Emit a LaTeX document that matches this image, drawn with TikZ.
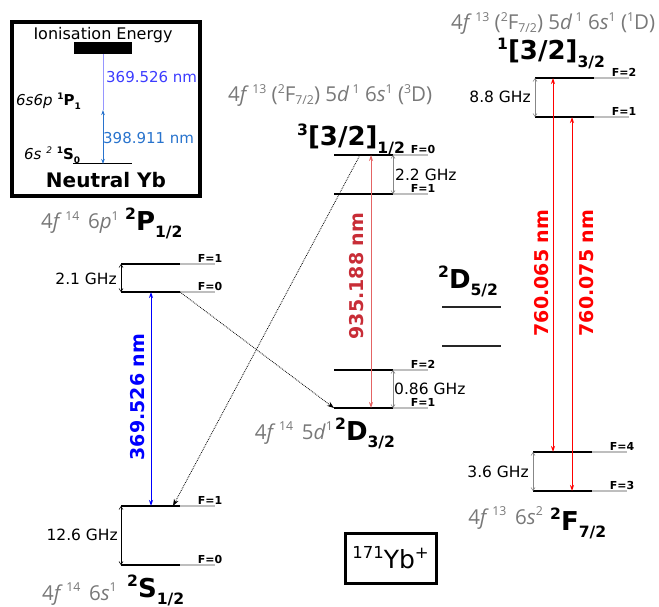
\documentclass[tikz,border=0pt]{standalone}
\usepackage{fontspec}
\usepackage{graphicx}
\setmainfont{DejaVu Sans}
\newfontfamily\cfgfont{Open Sans}
\usetikzlibrary{arrows.meta}

\definecolor{lvlgray}{RGB}{190,190,190}
\definecolor{brkgray}{RGB}{135,135,135}
\definecolor{cfggray}{RGB}{120,120,120}
\definecolor{uvblue}{RGB}{0,0,255}
\definecolor{ionblue}{RGB}{60,60,255}
\definecolor{ionline}{RGB}{150,150,255}
\definecolor{violetblue}{RGB}{40,115,205}
\definecolor{irline}{RGB}{228,100,100}
\definecolor{irtext}{RGB}{200,45,55}
\definecolor{clockred}{RGB}{255,0,0}

% raised / lowered small text for term symbols
\newcommand{\tsup}[1]{\raisebox{0.42em}{\scalebox{0.6}{#1}}}
\newcommand{\tsub}[1]{\raisebox{-0.28em}{\scalebox{0.6}{#1}}}
\newcommand{\tsubc}[1]{\raisebox{-0.12em}{\scalebox{0.6}{#1}}}

\tikzset{
  lvl/.style={line width=1.6pt, black},
  lvlext/.style={line width=1.2pt, lvlgray},
  flab/.style={font=\fontsize{11}{12}\selectfont\bfseries, inner sep=0pt, anchor=south},
  ghz/.style={font=\fontsize{15.5}{17}\selectfont, inner sep=0pt},
  brk/.style={line width=0.6pt, {Straight Barb[length=3pt,width=4pt]}-{Straight Barb[length=3pt,width=4pt]}},
  trm/.style={font=\fontsize{26}{28}\selectfont\bfseries, inner sep=0pt, anchor=base west},
  cfg/.style={font=\fontsize{20.5}{22}\selectfont\cfgfont, text=cfggray, inner sep=0pt, anchor=base west},
  nmlab/.style={font=\fontsize{19}{21}\selectfont\bfseries, rotate=90, inner sep=0pt},
  trans/.style={line width=1pt, {Stealth[length=6pt,width=4pt]}-{Stealth[length=6pt,width=4pt]}},
  decay/.style={densely dotted, line width=0.8pt, -{Stealth[length=7pt,width=5pt]}},
}

% hyperfine level: name, left x, y, F label
\newcommand{\hfslvl}[4]{%
  \coordinate (#1-l) at (#2,#3);
  \coordinate (#1-r) at ([xshift=59pt]#1-l);
  \coordinate (#1-e) at ([xshift=94pt]#1-l);
  \draw[lvlext] (#1-r) -- (#1-e);
  \draw[lvl] (#1-l) -- (#1-r);
  \node[flab] (#1-f) at ([xshift=-5pt,yshift=1.5pt]#1-e) {#4};
}

\begin{document}
\begin{tikzpicture}[x=1pt,y=-1pt]
\useasboundingbox (0,0) rectangle (659,607);

% ---------- neutral Yb inset ----------
\draw[line width=3.5pt] (12,22) rectangle (200,196);
\node[font=\fontsize{16}{18}\selectfont, inner sep=0pt] (ion) at (103,35) {Ionisation Energy};
\fill (74,42) rectangle (132,54);
\coordinate (ionbar) at (103,54);
\coordinate (p1) at (103,110);
\coordinate (s0) at (103,164);
\draw[line width=1pt] (73,164) -- (132,164);
\draw[ionline, line width=0.6pt] (ionbar) -- (p1);
\draw[violetblue, line width=0.8pt, {Stealth[length=5pt,width=3.5pt]}-{Stealth[length=5pt,width=3.5pt]}] (p1) -- (s0);
\node[font=\fontsize{15}{17}\selectfont, text=ionblue, anchor=west, inner sep=0pt] (l369n) at (106,77) {369.526 nm};
\node[font=\fontsize{15}{17}\selectfont, text=violetblue, anchor=west, inner sep=0pt] (l398n) at (103,138) {398.911 nm};
\node[font=\fontsize{15}{17}\selectfont, anchor=west, inner sep=0pt] (p1lab) at (16,101) {\textit{6s6p} \textbf{\tsup{1}P\tsub{1}}};
\node[font=\fontsize{15}{17}\selectfont, anchor=west, inner sep=0pt] (s0lab) at (24,155) {\textit{6s} \tsup{\textit{2}} \textbf{\tsup{1}S\tsub{0}}};
\node[font=\fontsize{20}{22}\selectfont\bfseries, inner sep=0pt] (neutral) at (106,180) {Neutral Yb};

% ---------- hyperfine levels ----------
\hfslvl{P1}{121}{264}{F=1}
\hfslvl{P0}{121}{292}{F=0}
\hfslvl{S1}{121}{506}{F=1}
\hfslvl{S0}{121}{565}{F=0}
\hfslvl{T0}{334}{155}{F=0}
\hfslvl{T1}{334}{194}{F=1}
\hfslvl{D2}{334}{370}{F=2}
\hfslvl{D1}{334}{408}{F=1}
\hfslvl{U2}{535}{78}{F=2}
\hfslvl{U1}{535}{117}{F=1}
\hfslvl{G4}{533}{452}{F=4}
\hfslvl{G3}{533}{491}{F=3}

% 2D5/2 sublevels
\draw[line width=1.3pt, black!85] (442,307) -- (501,307);
\draw[line width=1.3pt, black!85] (442,346) -- (501,346);

% ---------- hyperfine splittings ----------
\draw[brk] (P1-l) -- (P0-l);
\draw[brk] (S1-l) -- (S0-l);
\draw[brk, brkgray] (T0-r) -- (T1-r);
\draw[brk, brkgray] (D2-r) -- (D1-r);
\draw[brk, brkgray] (U2-l) -- (U1-l);
\draw[brk, brkgray] (G4-l) -- (G3-l);
\node[ghz, anchor=east] (g21) at (117,279) {2.1 GHz};
\node[ghz, anchor=east] (g126) at (118,535) {12.6 GHz};
\node[ghz, anchor=west] (g22) at (395,175) {2.2 GHz};
\node[ghz, anchor=west] (g086) at (394,389) {0.86 GHz};
\node[ghz, anchor=east] (g88) at (531,97) {8.8 GHz};
\node[ghz, anchor=east] (g36) at (529,472) {3.6 GHz};

% ---------- term symbols and configurations ----------
\node[trm] (Pterm) at (125,230) {\tsup{2}P\tsub{1/2}};
\node[trm] (Sterm) at (127,597) {\tsup{2}S\tsub{1/2}};
\node[trm] (Dterm) at (335,440) {\tsup{2}D\tsub{3/2}};
\node[trm] (Tterm) at (297,146) {\tsup{3}[3/2]\tsub{1/2}};
\node[trm] (Uterm) at (497,60) {\tsup{1}[3/2]\tsub{3/2}};
\node[trm] (D5term) at (438,288) {\tsup{2}D\tsub{5/2}};
\node[trm] (Fterm) at (550,530) {\tsup{2}F\tsub{7/2}};

\node[cfg] (cfgP) at (41,229) {4\textit{f}\,\tsup{14}\, 6\textit{p}\tsup{1}};
\node[cfg] (cfgS) at (42,600) {4\textit{f}\,\tsup{14}\, 6\textit{s}\tsup{1}};
\node[cfg, anchor=base east] (cfgD) at (333,439) {4\textit{f}\,\tsup{14}\, 5\textit{d}\tsup{1}};
\node[cfg, anchor=base east] (cfgF) at (543,524) {4\textit{f}\,\tsup{13}\, 6\textit{s}\tsup{2}};
\node[cfg] (cfgT) at (228,102) {4\textit{f}\,\tsup{13} (\tsup{2}F\tsubc{7/2}) 5\textit{d}\,\tsup{1} 6\textit{s}\tsup{1} (\tsup{3}D)};
\node[cfg] (cfgU) at (451,30) {4\textit{f}\,\tsup{13} (\tsup{2}F\tsubc{7/2}) 5\textit{d}\,\tsup{1} 6\textit{s}\tsup{1} (\tsup{1}D)};

% ---------- laser transitions ----------
\draw[trans, uvblue] ([xshift=30pt]P0-l) -- ([xshift=30pt]S1-l);
\node[nmlab, text=uvblue] (n369) at (138,397) {369.526 nm};

\draw[trans, irline] ([xshift=37pt]T0-l) -- ([xshift=37pt]D1-l);
\node[nmlab, text=irtext] (n935) at (357,276) {935.188 nm};

\draw[trans, clockred] ([xshift=18pt]U2-l) -- ([xshift=20pt]G4-l);
\draw[trans, clockred] ([xshift=37pt]U1-l) -- ([xshift=39pt]G3-l);
\node[nmlab, text=clockred] (n065) at (542,273) {760.065 nm};
\node[nmlab, text=clockred] (n075) at (587,273) {760.075 nm};

% ---------- decay channels ----------
\draw[decay] (P0-r) -- (D1-l);
\draw[decay] ([xshift=26pt]T0-l) -- ([xshift=52pt]S1-l);

% ---------- isotope label ----------
\node[draw, line width=3pt, minimum width=91pt, minimum height=50pt, inner sep=0pt,
      font=\fontsize{25}{27}\selectfont] (iso) at (390.5,558) {\raisebox{0.4em}{\scalebox{0.66}{171}}Yb\raisebox{0.4em}{\scalebox{0.66}{+}}};
\end{tikzpicture}
\end{document}
